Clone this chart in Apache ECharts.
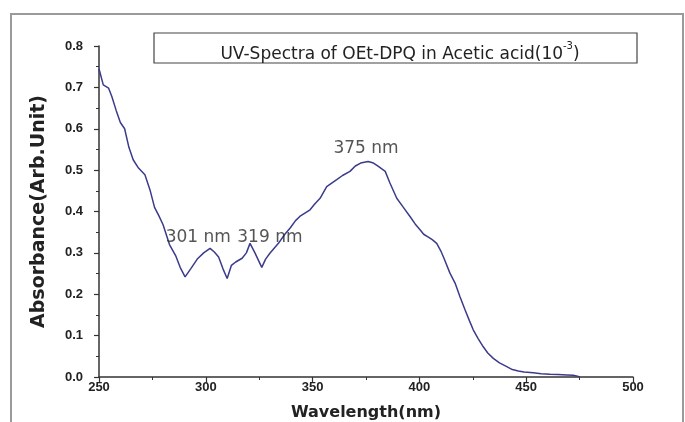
<!DOCTYPE html>
<html>
<head>
<meta charset="utf-8">
<script src="https://cdn.jsdelivr.net/npm/echarts@6/dist/echarts.min.js"></script>
<style>
  html, body { margin: 0; padding: 0; background: #fff; }
  #chart { width: 685px; height: 422px; }
</style>
</head>
<body>
<div id="chart"></div>
<script>
// wavelength (nm) and absorbance
const wavelength = [
  250, 252, 254.5, 256, 258, 260, 262, 264, 266, 268.5, 271.5, 274, 276, 278, 280, 283, 286, 288,
  290.3, 293, 296, 299, 302, 304, 306, 308, 310, 312, 314, 317, 319, 320.7, 323, 326.2, 328, 330,
  334, 337, 339.5, 342, 344, 348.8, 351, 353.5, 356.6, 361.3, 364, 367.5, 370, 372.5, 376, 378.5,
  380.8, 384, 386.2, 389.4, 392.5, 395.6, 398, 400.3, 402, 404.2, 406, 408.1, 410, 411.5, 414.3,
  416.7, 419, 421.4, 423.5, 425.2, 427.5, 429.9, 432, 434.6, 437.5, 440.9, 443.5, 446.3, 449,
  453.3, 457, 461.2, 465, 469, 472, 474, 475
];
const absorbance = [
  0.745, 0.706, 0.698, 0.678, 0.645, 0.615, 0.600, 0.555, 0.525, 0.505, 0.489, 0.450, 0.410, 0.390, 0.368, 0.320, 0.292, 0.265,
  0.242, 0.262, 0.285, 0.300, 0.311, 0.302, 0.290, 0.262, 0.238, 0.270, 0.278, 0.287, 0.300, 0.323, 0.300, 0.265, 0.285, 0.299,
  0.323, 0.345, 0.360, 0.378, 0.388, 0.404, 0.418, 0.432, 0.460, 0.477, 0.487, 0.497, 0.510, 0.517, 0.521, 0.517,
  0.509, 0.497, 0.469, 0.432, 0.410, 0.388, 0.370, 0.356, 0.345, 0.338, 0.332, 0.323, 0.305, 0.287, 0.251,
  0.227, 0.194, 0.162, 0.135, 0.114, 0.093, 0.073, 0.058, 0.045, 0.034, 0.025, 0.018, 0.0145, 0.012,
  0.010, 0.008, 0.0065, 0.006, 0.005, 0.004, 0.002, 0.000
];

// peak labels: text and where they sit (data coords)
const peakLabels = ['301 nm', '319 nm', '375 nm'];
const peakLabelX = [296.5, 330, 375];
const peakLabelY = [0.336, 0.336, 0.553];

const chart = echarts.init(document.getElementById('chart'));

const axisColor = '#333';
const tickFont = { fontFamily: 'Liberation Sans', fontWeight: 'bold', fontSize: 13, color: '#222' };

const options = {
  animation: false,
  backgroundColor: '#fff',
  title: {
    left: 395,
    top: 36,
    textAlign: 'center',
    text: '{a|UV-Spectra of OEt-DPQ in Acetic acid(10}{s|-3}{a|)}',
    textStyle: {
      fontWeight: 'normal',
      rich: {
        a: { fontFamily: 'DejaVu Sans', fontWeight: 'normal', fontSize: 17, color: '#222', lineHeight: 22, verticalAlign: 'bottom' },
        s: { fontFamily: 'DejaVu Sans', fontWeight: 'normal', fontSize: 10, color: '#222', lineHeight: 22, verticalAlign: 'top' }
      }
    }
  },
  graphic: [
    // outer frame of the original figure
    { type: 'rect', shape: { x: 11, y: 14, width: 672, height: 430 }, style: { fill: 'none', stroke: '#9a9a9a', lineWidth: 2 }, silent: true },
    // box round the title
    { type: 'rect', shape: { x: 154, y: 33, width: 483, height: 30 }, style: { fill: 'none', stroke: '#444', lineWidth: 1.2 }, silent: true }
  ],
  grid: {
    left: 99,
    right: 52,
    top: 46,
    bottom: 45,
    containLabel: false,
    outerBoundsMode: 'none'
  },
  xAxis: {
    type: 'value',
    min: 250,
    max: 500,
    interval: 50,
    splitLine: { show: false },
    axisLine: { lineStyle: { color: axisColor, width: 1.5 } },
    axisTick: { length: 5, lineStyle: { color: axisColor, width: 1.2 } },
    minorTick: { show: true, splitNumber: 2, length: 3, lineStyle: { color: axisColor } },
    axisLabel: Object.assign({ margin: 4 }, tickFont),
    name: 'Wavelength(nm)',
    nameLocation: 'middle',
    nameGap: 28,
    nameTextStyle: { fontFamily: 'DejaVu Sans', fontWeight: 'bold', fontSize: 16, color: '#222' }
  },
  yAxis: {
    type: 'value',
    min: 0,
    max: 0.8,
    interval: 0.1,
    splitLine: { show: false },
    axisLine: { show: true, lineStyle: { color: axisColor, width: 1.5 } },
    axisTick: { show: true, length: 5, lineStyle: { color: axisColor, width: 1.2 } },
    minorTick: { show: true, splitNumber: 2, length: 3, lineStyle: { color: axisColor } },
    axisLabel: Object.assign({ margin: 16, formatter: v => v.toFixed(1) }, tickFont),
    name: 'Absorbance(Arb.Unit)',
    nameLocation: 'middle',
    nameGap: 50,
    nameTextStyle: { fontFamily: 'DejaVu Sans', fontWeight: 'bold', fontSize: 19, color: '#222' }
  },
  series: [
    {
      name: 'OEt-DPQ',
      type: 'line',
      showSymbol: false,
      smooth: false,
      lineStyle: { color: '#3b3b8c', width: 1.5 },
      data: wavelength.map((w, i) => [w, absorbance[i]])
    },
    {
      name: 'peaks',
      type: 'scatter',
      symbolSize: 1,
      itemStyle: { color: 'rgba(0,0,0,0)' },
      label: {
        show: true,
        position: 'inside',
        formatter: p => p.name,
        fontFamily: 'DejaVu Sans',
        fontSize: 17,
        color: '#2a2a2a'
      },
      z: 5,
      data: peakLabels.map((t, i) => ({ name: t, value: [peakLabelX[i], peakLabelY[i]] }))
    }
  ]
};

chart.setOption(options);
</script>
</body>
</html>
